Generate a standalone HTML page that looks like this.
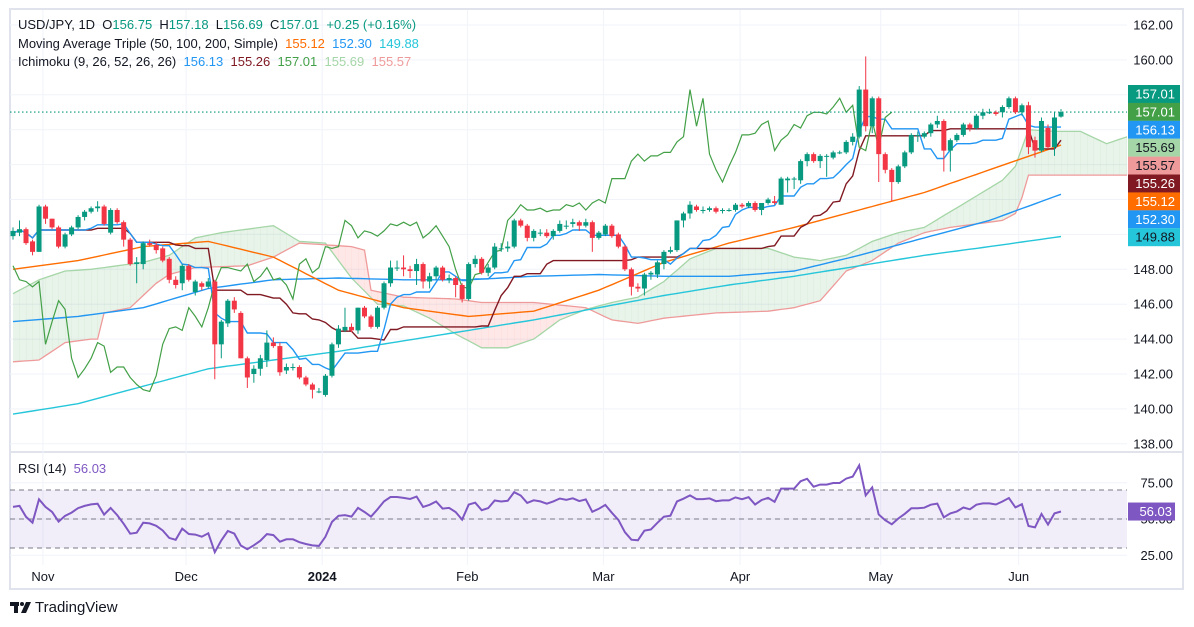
<!DOCTYPE html>
<html><head><meta charset="utf-8">
<style>
html,body{margin:0;padding:0;background:#fff;}
#wrap{position:relative;width:1194px;height:627px;overflow:hidden;font-family:"Liberation Sans",sans-serif;}
svg{position:absolute;left:0;top:0;}
.hdr{position:absolute;left:18px;font-size:13px;color:#131722;white-space:pre;}
.g{color:#089981}
</style></head>
<body>
<div id="wrap">
<svg id="chart" width="1194" height="627" viewBox="0 0 1194 627"></svg>
<div class="hdr" style="top:17px">USD/JPY, 1D  O<span class="g">156.75</span>  H<span class="g">157.18</span>  L<span class="g">156.69</span>  C<span class="g">157.01</span>  <span class="g">+0.25 (+0.16%)</span></div>
<div class="hdr" style="top:36px">Moving Average Triple (50, 100, 200, Simple)  <span style="color:#ff6d00">155.12</span>  <span style="color:#2196f3">152.30</span>  <span style="color:#26c6da">149.88</span></div>
<div class="hdr" style="top:54px">Ichimoku (9, 26, 52, 26, 26)  <span style="color:#2196f3">156.13</span>  <span style="color:#801922">155.26</span>  <span style="color:#43a047">157.01</span>  <span style="color:#a5d6a7">155.69</span>  <span style="color:#ef9a9a">155.57</span></div>
<div class="hdr" style="top:461px">RSI (14)  <span style="color:#7e57c2">56.03</span></div>
<div style="position:absolute;left:35px;top:599px;font-size:15px;color:#131722">TradingView</div>
</div>
<script>
const opens=[149.9,150.1,150.3,149.6,149.0,151.6,150.9,150.4,149.3,150.0,
150.4,151.0,151.3,151.5,151.6,150.1,151.4,150.7,149.7,148.3,
148.3,149.5,149.4,149.2,148.6,147.4,147.2,148.2,146.7,147.2,
147.0,147.3,143.7,144.9,146.2,145.5,142.9,142.0,142.3,142.8,
143.8,143.6,142.2,142.4,142.4,141.8,141.4,141.0,140.8,141.9,
143.7,144.5,144.7,144.5,145.8,145.3,144.7,145.8,147.2,148.1,
148.1,148.0,147.9,148.3,147.3,147.6,148.1,147.4,147.5,147.1,
146.3,148.3,148.6,147.8,148.1,149.2,149.2,149.3,150.8,150.5,
149.8,150.1,150.1,149.9,150.2,150.5,150.6,150.7,150.5,150.7,
149.8,150.0,150.5,150.0,149.3,148.0,147.0,146.9,147.7,147.7,
148.3,149.0,149.1,150.8,151.2,151.6,151.4,151.4,151.5,151.4,
151.4,151.4,151.7,151.6,151.8,151.4,151.8,151.9,151.7,153.1,
153.2,153.1,154.2,154.6,154.2,154.5,154.4,154.7,154.7,155.3,
155.6,158.3,156.2,157.8,154.6,153.7,153.0,153.9,154.7,155.7,
155.6,155.8,156.3,156.5,154.8,155.4,155.7,156.3,156.1,156.8,
157.0,157.0,157.0,157.3,157.8,157.0,157.4,155.4,154.8,156.1,
155.0,156.75];
const highs=[150.4,150.8,150.4,149.7,151.7,151.7,150.9,150.5,150.1,150.5,
151.1,151.4,151.6,151.9,151.7,151.5,151.5,150.8,149.8,148.7,
149.6,149.7,149.6,149.3,148.7,147.6,148.3,148.3,147.4,147.3,
147.5,147.4,145.1,146.3,146.4,145.6,143.0,142.5,143.1,144.5,
144.1,143.8,142.6,142.6,142.5,141.9,141.5,141.2,142.0,143.8,
144.8,145.8,144.9,145.8,145.9,145.4,145.9,147.3,148.5,148.5,
148.8,148.2,148.6,148.4,147.8,148.2,148.2,147.7,147.6,147.2,
148.4,148.8,148.7,148.3,149.5,149.5,149.6,150.9,150.9,150.6,
150.3,150.3,150.3,150.3,150.8,150.8,150.9,150.8,150.9,150.8,
150.2,150.6,150.6,150.1,149.4,148.1,147.2,147.8,147.9,148.5,
149.1,149.3,150.8,151.3,151.9,151.7,151.6,151.6,151.6,151.5,
151.5,151.8,151.8,151.9,151.9,151.8,152.1,152.2,153.3,153.3,
153.3,154.3,154.7,154.7,154.6,154.6,154.8,154.8,155.4,155.8,
158.5,160.2,157.9,157.9,154.7,153.8,154.0,154.8,155.8,155.9,
155.9,156.4,156.8,156.6,155.5,155.8,156.4,156.4,156.9,157.2,
157.2,157.1,157.4,157.9,157.9,157.5,157.6,155.6,156.7,156.3,
157.0,157.18];
const lows=[149.7,149.9,149.4,148.8,149.0,150.6,150.3,149.2,149.2,149.9,
150.3,150.8,151.2,151.3,150.5,150.0,150.6,149.3,148.2,147.2,
148.0,149.3,148.9,148.4,147.2,146.9,146.8,147.3,146.5,146.8,
146.9,141.7,142.9,144.7,145.5,142.9,141.2,141.5,141.9,142.4,
143.5,141.9,142.0,142.2,141.7,141.3,140.6,140.9,140.7,141.8,
143.5,144.4,144.4,144.3,145.2,144.6,144.6,145.7,147.0,147.9,
147.6,147.5,147.1,146.9,146.9,147.4,147.3,147.2,146.4,146.1,
146.2,148.1,147.7,147.6,148.0,149.0,149.0,149.2,150.4,149.6,
149.6,149.9,149.8,149.7,150.1,150.3,150.4,150.2,150.4,149.0,
149.7,149.9,149.8,149.2,147.9,146.5,146.7,146.5,147.4,147.5,
148.0,148.9,149.0,150.4,150.9,151.3,151.2,151.3,151.2,151.2,
151.3,151.3,151.5,151.5,151.3,151.1,151.7,151.7,151.7,152.4,
152.6,152.9,153.9,154.1,153.8,153.3,154.3,154.6,154.6,155.1,
155.5,155.9,155.8,153.0,153.5,151.9,152.9,153.8,154.6,155.3,
155.5,155.6,156.1,153.6,153.6,155.3,155.6,155.9,156.0,156.6,
156.9,156.8,156.7,157.2,156.9,156.8,154.6,154.4,154.7,154.9,
154.5,156.69];
const closes=[150.2,150.3,149.5,149.0,151.6,150.9,150.4,149.3,150.0,150.4,
151.0,151.3,151.5,151.6,150.6,151.4,150.7,149.7,148.3,148.4,
149.5,149.4,149.1,148.5,147.4,147.1,148.2,147.4,147.3,147.0,
147.3,143.7,145.0,146.2,145.7,142.9,141.8,142.3,142.9,143.8,
143.6,142.1,142.4,142.4,141.8,141.4,141.1,141.0,141.9,143.7,
144.6,144.7,144.5,145.8,145.3,144.7,145.8,147.2,148.1,148.1,
148.0,147.9,148.3,147.3,147.6,148.1,147.4,147.5,147.1,146.3,
148.3,148.6,147.8,148.1,149.3,149.2,149.3,150.8,150.5,149.8,
150.2,150.1,149.9,150.2,150.6,150.5,150.7,150.5,150.7,149.8,
150.1,150.5,149.9,149.3,148.0,147.0,146.9,147.7,147.8,148.4,
149.0,149.1,150.8,151.2,151.7,151.4,151.4,151.5,151.3,151.4,
151.4,151.7,151.6,151.8,151.4,151.8,152.0,151.8,153.2,153.2,
153.2,154.2,154.6,154.2,154.5,154.5,154.7,154.7,155.3,155.6,
158.3,156.2,157.8,154.6,153.7,153.0,153.9,154.7,155.7,155.7,
155.8,156.3,156.5,154.8,155.4,155.7,156.3,156.1,156.8,157.0,
157.0,156.9,157.3,157.8,157.0,157.4,155.0,154.8,156.5,155.0,
156.7,157.01];
const smaIdx=[0,10,20,30,40,50,60,70,80,90,100,110,120,130,140,150,161];
const sma50=[148.0,148.5,149.3,149.6,148.7,146.8,145.8,145.3,145.6,146.8,148.4,149.5,150.4,151.4,152.4,153.7,155.12];
const sma100=[145.0,145.3,145.8,146.9,147.4,147.5,147.4,147.4,147.6,147.7,147.6,147.6,147.9,148.8,149.8,150.8,152.30];
const sma200=[139.7,140.3,141.3,142.3,142.8,143.3,143.9,144.5,145.1,145.8,146.5,147.1,147.6,148.2,148.8,149.3,149.88];
const spanAIdx=[0,4,8,12,16,20,24,28,32,36,40,44,48,52,56,60,64,68,72,76,80,84,88,92,96,100,104,108,112,116,120,124,128,132,136,140,144,148,152,154,156,160,164,168,172];
const spanAVal=[146.6,147.4,147.9,148.0,148.2,148.4,148.8,149.8,150.1,150.3,150.5,149.6,149.5,147.5,146.0,145.9,145.2,144.3,143.5,143.5,144.0,145.1,145.7,146.1,146.4,147.3,148.6,149.2,149.2,149.2,148.7,148.5,148.8,149.6,150.1,150.4,151.3,152.2,153.1,153.9,156.0,155.9,155.9,155.2,155.7];
const spanBIdx=[0,4,8,12,13,14,18,20,22,24,28,36,40,44,52,54,55,60,68,72,80,88,92,96,100,108,116,120,124,128,132,136,140,144,148,152,154,155,156,172];
const spanBVal=[142.7,142.8,143.8,144.0,144.0,145.5,145.8,146.5,147.2,147.7,148.1,148.2,148.7,149.5,149.3,149.1,146.8,146.4,146.3,146.1,146.1,145.8,145.1,144.9,145.2,145.5,145.6,145.8,146.2,147.9,148.5,149.5,150.1,150.4,150.6,150.8,151.2,152.1,153.4,153.4];
const priceTicks=[162,160,158,156,154,152,150,148,146,144,142,140,138];
const rsiTicks=[75,50,25];
const rsiLast=56.03;
const monthLabels=["Nov","Dec","2024","Feb","Mar","Apr","May","Jun"];
const monthBar=[4.6,26.6,47.5,69.8,90.7,111.7,133.3,154.5];

const NS="http://www.w3.org/2000/svg";
const svg=document.getElementById('chart');
const X0=13,STEP=(1061-13)/(closes.length-1);
const xOf=i=>X0+i*STEP;
const yOf=p=>25+(162-p)*17.45;
const yR=r=>519-(r-50)*1.45;
function mk(tag,attrs,parent){const e=document.createElementNS(NS,tag);for(const k in attrs)e.setAttribute(k,attrs[k]);(parent||svg).appendChild(e);return e;}
function lerpSeries(idx,val,i){if(i<=idx[0])return val[0];for(let k=1;k<idx.length;k++){if(i<=idx[k]){const t=(i-idx[k-1])/(idx[k]-idx[k-1]);return val[k-1]+t*(val[k]-val[k-1]);}}return val[val.length-1];}

const defs=mk('defs',{});
const cp=mk('clipPath',{id:'mainclip'},defs);mk('rect',{x:10,y:10,width:1117,height:441},cp);
const cp2=mk('clipPath',{id:'rsiclip'},defs);mk('rect',{x:10,y:453,width:1117,height:112},cp2);

let fr=mk('rect',{x:10,y:9,width:1173,height:580,fill:'none',stroke:'#e0e3eb','stroke-width':2});


let sep=mk('line',{x1:10,x2:1183,y1:452,y2:452,stroke:'#e0e3eb','stroke-width':2});



const grid=mk('g',{stroke:'#f0f3fa','stroke-width':1});


priceTicks.forEach(p=>{const y=yOf(p);if(y<450)mk('line',{x1:10,x2:1127,y1:y,y2:y},grid);});
rsiTicks.forEach(r=>{mk('line',{x1:10,x2:1127,y1:yR(r),y2:yR(r)},grid);});
monthBar.forEach(b=>{const x=xOf(b);mk('line',{x1:x,x2:x,y1:10,y2:565},grid);});

const pa=mk('g',{'font-size':13,fill:'#131722','text-anchor':'end','font-family':'Liberation Sans, sans-serif'});


priceTicks.forEach(p=>{const y=yOf(p);if(y<450){const t=mk('text',{x:1173,y:y+4.5},pa);t.textContent=p.toFixed(2);}});
rsiTicks.forEach(r=>{const t=mk('text',{x:1173,y:yR(r)+4.5},pa);t.textContent=r.toFixed(2);});

const ta=mk('g',{'font-size':13,fill:'#131722','text-anchor':'middle','font-family':'Liberation Sans, sans-serif'});


monthLabels.forEach((m,k)=>{const t=mk('text',{x:xOf(monthBar[k]),y:581,'font-weight':m==='2024'?'bold':'normal'},ta);t.textContent=m;});

const main=mk('g',{'clip-path':'url(#mainclip)'});



const N=closes.length,NF=N+26;
const cloud=mk('g',{},main);


for(let i=0;i<NF-1;i++){
 const a0=lerpSeries(spanAIdx,spanAVal,i),a1=lerpSeries(spanAIdx,spanAVal,i+1);
 const b0=lerpSeries(spanBIdx,spanBVal,i),b1=lerpSeries(spanBIdx,spanBVal,i+1);
 const col=(a0+a1)>=(b0+b1)?'rgba(67,160,71,0.12)':'rgba(244,67,54,0.12)';
 mk('polygon',{points:`${xOf(i)},${yOf(a0)} ${xOf(i+1)+0.3},${yOf(a1)} ${xOf(i+1)+0.3},${yOf(b1)} ${xOf(i)},${yOf(b0)}`,fill:col},cloud);
}
function pathFrom(vals,startIdx){let d='';vals.forEach((v,k)=>{if(v==null)return;d+=(d?'L':'M')+xOf(startIdx+k).toFixed(1)+','+yOf(v).toFixed(1);});return d;}
function sampled(idx,val,maxI){const a=[];for(let i=0;i<=maxI;i++)a.push(lerpSeries(idx,val,i));return a;}
let pA=mk('path',{d:pathFrom(sampled(spanAIdx,spanAVal,NF-1),0),fill:'none',stroke:'#a5d6a7','stroke-width':1.3},main);


let pB=mk('path',{d:pathFrom(sampled(spanBIdx,spanBVal,NF-1),0),fill:'none',stroke:'#ef9a9a','stroke-width':1.3},main);



[[sma200,'#26c6da','sma-200'],[sma100,'#2196f3','sma-100'],[sma50,'#ff6d00','sma-50']].forEach(([v,c,n])=>{
 const p=mk('path',{d:pathFrom(sampled(smaIdx,v,N-1),0),fill:'none',stroke:c,'stroke-width':1.4},main);
 
 
});

function midWin(i,w){let h=-1e9,l=1e9;for(let k=Math.max(0,i-w+1);k<=i;k++){h=Math.max(h,highs[k]);l=Math.min(l,lows[k]);}return (h+l)/2;}
const tenkan=closes.map((c,i)=>midWin(i,9));
const kijun=closes.map((c,i)=>midWin(i,26));
let kj=mk('path',{d:pathFrom(kijun,0),fill:'none',stroke:'#801922','stroke-width':1.4},main);


let tk=mk('path',{d:pathFrom(tenkan,0),fill:'none',stroke:'#2196f3','stroke-width':1.4},main);


let ch=mk('path',{d:pathFrom(closes.slice(26),0),fill:'none',stroke:'#43a047','stroke-width':1.2},main);



let lp=mk('line',{x1:10,x2:1127,y1:yOf(closes[N-1]),y2:yOf(closes[N-1]),stroke:'#089981','stroke-width':1.2,'stroke-dasharray':'1.5 2.5'},main);



const cg=mk('g',{},main);


for(let i=0;i<N;i++){
 const up=closes[i]>=opens[i],col=up?'#089981':'#f23645',x=xOf(i);
 const g=mk('g',{},cg);
 
 
 mk('line',{x1:x,x2:x,y1:yOf(highs[i]),y2:yOf(lows[i]),stroke:col,'stroke-width':1},g);
 const yt=yOf(Math.max(opens[i],closes[i])),yb=yOf(Math.min(opens[i],closes[i]));
 mk('rect',{x:x-2.5,y:yt,width:5,height:Math.max(1,yb-yt),fill:col},g);
}

const rsi=[];let ag=0.28,al=0.2;
for(let i=0;i<N;i++){const d=i?closes[i]-closes[i-1]:0;ag=(ag*13+Math.max(d,0))/14;al=(al*13+Math.max(-d,0))/14;rsi.push(100-100/(1+ag/al));}
const rg=mk('g',{'clip-path':'url(#rsiclip)'});


let band=mk('rect',{x:10,y:yR(70),width:1117,height:yR(30)-yR(70),fill:'rgba(126,87,194,0.1)'},rg);


[70,50,30].forEach(r=>{const l=mk('line',{x1:10,x2:1127,y1:yR(r),y2:yR(r),stroke:'#787b86','stroke-width':1,'stroke-dasharray':'5 4'},rg);
 
 });
let rd='';rsi.forEach((v,i)=>{rd+=(i?'L':'M')+xOf(i).toFixed(1)+','+yR(v).toFixed(1);});
let rl=mk('path',{d:rd,fill:'none',stroke:'#7e57c2','stroke-width':2},rg);



const labels=[["157.01",'#089981','#fff'],["157.01",'#43a047','#fff'],["156.13",'#2196f3','#fff'],["155.69",'#a5d6a7','#131722'],["155.57",'#ef9a9a','#131722'],["155.26",'#801922','#fff'],["155.12",'#ff6d00','#fff'],["152.30",'#2196f3','#fff'],["149.88",'#26c6da','#131722']];
const lg=mk('g',{'font-size':13,'text-anchor':'end','font-family':'Liberation Sans, sans-serif'});


labels.forEach((L,k)=>{const yc=94+k*17.9;mk('rect',{x:1128,y:yc-9,width:52,height:18,fill:L[1]},lg);const t=mk('text',{x:1175,y:yc+4.5,fill:L[2]},lg);t.textContent=L[0];});
mk('rect',{x:1128,y:yR(rsi[N-1])-9,width:47,height:18,fill:'#7e57c2'},lg);
const rt=mk('text',{x:1172,y:yR(rsi[N-1])+4.5,fill:'#fff'},lg);rt.textContent=rsiLast.toFixed(2);

const logo=mk('g',{fill:'#131722'});


mk('rect',{x:10,y:602,width:9,height:4},logo);mk('rect',{x:14,y:602,width:4,height:11},logo);
mk('circle',{cx:22,cy:604,r:2},logo);mk('polygon',{points:'26,602 31,602 26,613 21,613'},logo);
</script>
</body></html>
